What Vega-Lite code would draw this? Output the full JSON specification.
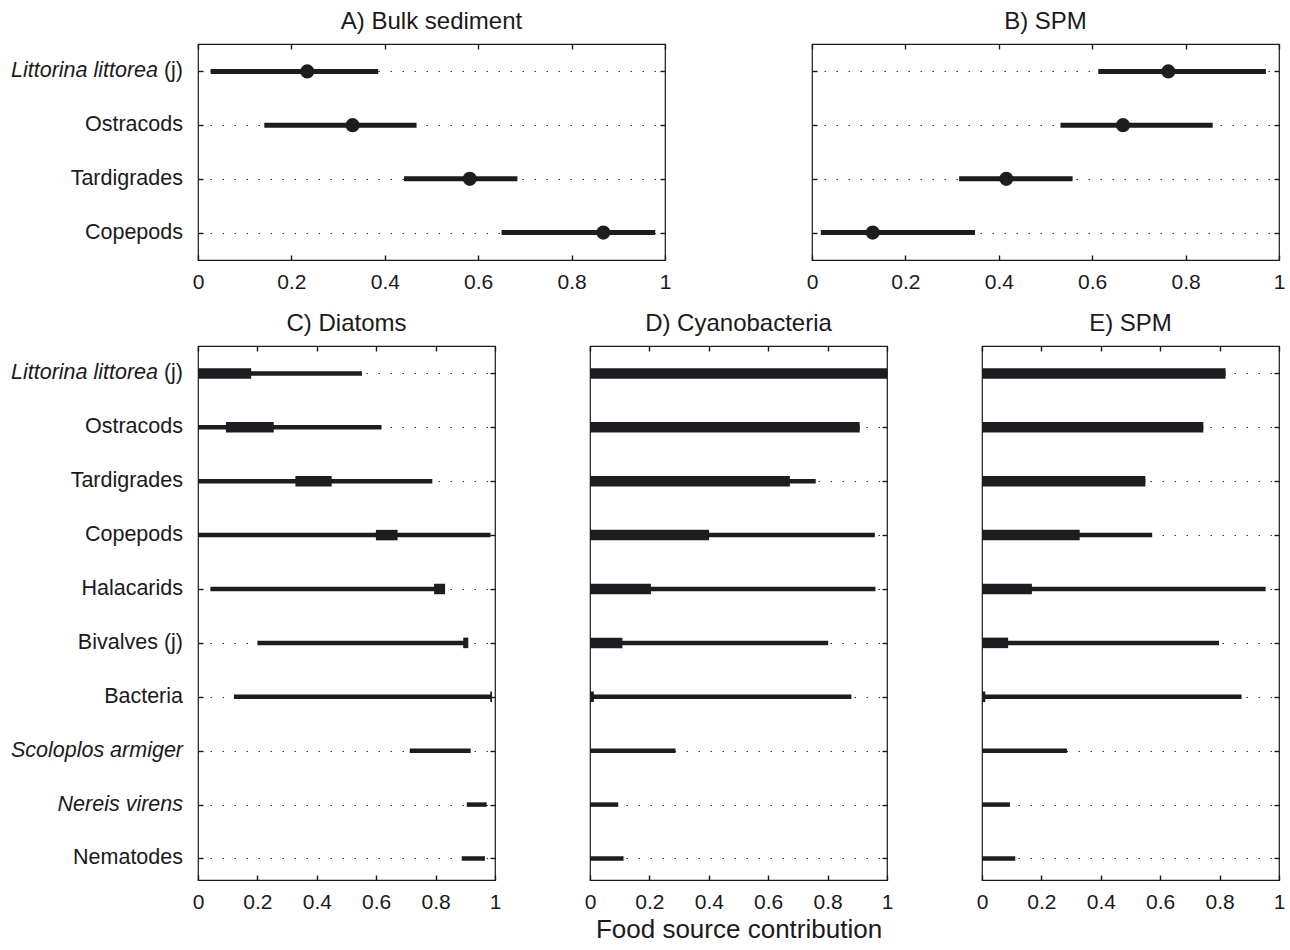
{
  "$schema": "https://vega.github.io/schema/vega-lite/v6.json",
  "padding": {"left": 10, "top": 9, "right": 0, "bottom": 0},
  "background": "white",
  "config": {
    "font": "Liberation Sans",
    "view": {"stroke": "#1a1a1a", "strokeWidth": 1.2},
    "axis": {"domain": false, "ticks": true, "tickSize": -5, "tickColor": "#1a1a1a", "tickWidth": 1.4, "labelFont": "Liberation Sans", "labelColor": "#1a1a1a", "labelFontSize": 21, "labelPadding": 16, "title": null, "zindex": 1},
    "title": {"font": "Liberation Sans", "fontSize": 24, "fontWeight": "normal", "color": "#1a1a1a", "offset": 9},
    "rule": {"strokeCap": "butt", "color": "#1d1d1f"},
    "text": {"font": "Liberation Sans", "fontSize": 21.5, "color": "#1a1a1a", "align": "right", "baseline": "middle"}
  },
  "datasets": {
    "top": [
      {"panel": "A", "taxon": "Littorina littorea (j)", "lo": 0.027, "hi": 0.386, "mid": 0.234},
      {"panel": "A", "taxon": "Ostracods", "lo": 0.142, "hi": 0.468, "mid": 0.331},
      {"panel": "A", "taxon": "Tardigrades", "lo": 0.441, "hi": 0.684, "mid": 0.582},
      {"panel": "A", "taxon": "Copepods", "lo": 0.650, "hi": 0.979, "mid": 0.868},
      {"panel": "B", "taxon": "Littorina littorea (j)", "lo": 0.613, "hi": 0.972, "mid": 0.763},
      {"panel": "B", "taxon": "Ostracods", "lo": 0.532, "hi": 0.858, "mid": 0.666},
      {"panel": "B", "taxon": "Tardigrades", "lo": 0.315, "hi": 0.558, "mid": 0.416},
      {"panel": "B", "taxon": "Copepods", "lo": 0.019, "hi": 0.349, "mid": 0.130}
    ],
    "bottom": [
      {"panel": "C", "taxon": "Littorina littorea (j)", "lo95": 0, "hi95": 0.552, "lo50": 0, "hi50": 0.179},
      {"panel": "C", "taxon": "Ostracods", "lo95": 0, "hi95": 0.618, "lo50": 0.094, "hi50": 0.255},
      {"panel": "C", "taxon": "Tardigrades", "lo95": 0, "hi95": 0.789, "lo50": 0.328, "hi50": 0.450},
      {"panel": "C", "taxon": "Copepods", "lo95": 0, "hi95": 0.985, "lo50": 0.599, "hi50": 0.672},
      {"panel": "C", "taxon": "Halacarids", "lo95": 0.042, "hi95": 0.801, "lo50": 0.795, "hi50": 0.832},
      {"panel": "C", "taxon": "Bivalves (j)", "lo95": 0.200, "hi95": 0.901, "lo50": 0.893, "hi50": 0.910},
      {"panel": "C", "taxon": "Bacteria", "lo95": 0.121, "hi95": 0.989, "lo50": 0.984, "hi50": 0.990},
      {"panel": "C", "taxon": "Scoloplos armiger", "lo95": 0.713, "hi95": 0.918, "lo50": null, "hi50": null},
      {"panel": "C", "taxon": "Nereis virens", "lo95": 0.905, "hi95": 0.972, "lo50": null, "hi50": null},
      {"panel": "C", "taxon": "Nematodes", "lo95": 0.888, "hi95": 0.966, "lo50": null, "hi50": null},
      {"panel": "D", "taxon": "Littorina littorea (j)", "lo95": 0, "hi95": 1.0, "lo50": 0, "hi50": 1.0},
      {"panel": "D", "taxon": "Ostracods", "lo95": 0, "hi95": 0.908, "lo50": 0, "hi50": 0.908},
      {"panel": "D", "taxon": "Tardigrades", "lo95": 0, "hi95": 0.760, "lo50": 0, "hi50": 0.673},
      {"panel": "D", "taxon": "Copepods", "lo95": 0, "hi95": 0.959, "lo50": 0, "hi50": 0.401},
      {"panel": "D", "taxon": "Halacarids", "lo95": 0, "hi95": 0.961, "lo50": 0, "hi50": 0.205},
      {"panel": "D", "taxon": "Bivalves (j)", "lo95": 0, "hi95": 0.802, "lo50": 0, "hi50": 0.109},
      {"panel": "D", "taxon": "Bacteria", "lo95": 0, "hi95": 0.880, "lo50": 0, "hi50": 0.013},
      {"panel": "D", "taxon": "Scoloplos armiger", "lo95": 0, "hi95": 0.288, "lo50": null, "hi50": null},
      {"panel": "D", "taxon": "Nereis virens", "lo95": 0, "hi95": 0.095, "lo50": null, "hi50": null},
      {"panel": "D", "taxon": "Nematodes", "lo95": 0, "hi95": 0.113, "lo50": null, "hi50": null},
      {"panel": "E", "taxon": "Littorina littorea (j)", "lo95": 0, "hi95": 0.820, "lo50": 0, "hi50": 0.820},
      {"panel": "E", "taxon": "Ostracods", "lo95": 0, "hi95": 0.745, "lo50": 0, "hi50": 0.745},
      {"panel": "E", "taxon": "Tardigrades", "lo95": 0, "hi95": 0.550, "lo50": 0, "hi50": 0.550},
      {"panel": "E", "taxon": "Copepods", "lo95": 0, "hi95": 0.573, "lo50": 0, "hi50": 0.329},
      {"panel": "E", "taxon": "Halacarids", "lo95": 0, "hi95": 0.955, "lo50": 0, "hi50": 0.168},
      {"panel": "E", "taxon": "Bivalves (j)", "lo95": 0, "hi95": 0.798, "lo50": 0, "hi50": 0.088},
      {"panel": "E", "taxon": "Bacteria", "lo95": 0, "hi95": 0.874, "lo50": 0, "hi50": 0.011},
      {"panel": "E", "taxon": "Scoloplos armiger", "lo95": 0, "hi95": 0.286, "lo50": null, "hi50": null},
      {"panel": "E", "taxon": "Nereis virens", "lo95": 0, "hi95": 0.094, "lo50": null, "hi50": null},
      {"panel": "E", "taxon": "Nematodes", "lo95": 0, "hi95": 0.112, "lo50": null, "hi50": null}
    ]
  },
  "spacing": 18,
  "vconcat": [
    {
      "spacing": 133,
      "hconcat": [
        {
          "width": 467, "height": 216,
          "title": "A) Bulk sediment",
          "data": {"name": "top"},
          "transform": [{"filter": "datum.panel == 'A'"}],
          "layer": [
            {
              "mark": {"type": "rule", "strokeWidth": 5},
              "encoding": {
                "y": {"field": "taxon", "type": "nominal", "scale": {"type": "point", "padding": 0.51, "domain": ["Littorina littorea (j)", "Ostracods", "Tardigrades", "Copepods"]},
                      "axis": {"orient": "left", "labels": false, "grid": true, "gridDash": [1.5, 10.5], "gridColor": "#333", "gridWidth": 1}},
                "x": {"field": "lo", "type": "quantitative", "scale": {"domain": [0, 1], "nice": false},
                      "axis": {"orient": "bottom", "values": [0, 0.2, 0.4, 0.6, 0.8, 1], "format": "~g", "labelFlush": false, "grid": false}},
                "x2": {"field": "hi"}
              }
            },
            {
              "mark": {"type": "point", "filled": true, "opacity": 1, "size": 200, "color": "#1d1d1f", "shape": "circle"},
              "encoding": {
                "y": {"field": "taxon", "type": "nominal", "axis": {"orient": "right", "labels": false, "grid": false}},
                "x": {"field": "mid", "type": "quantitative", "axis": {"orient": "top", "labels": false, "values": [0, 0.2, 0.4, 0.6, 0.8, 1], "grid": false}}
              }
            },
            {
              "transform": [{"filter": "datum.taxon != 'Littorina littorea (j)'"}],
              "mark": {"type": "text", "dx": -15},
              "encoding": {
                "y": {"field": "taxon", "type": "nominal", "axis": null},
                "x": {"datum": 0, "type": "quantitative", "axis": null},
                "text": {"field": "taxon"}
              }
            },
            {
              "transform": [{"filter": "datum.taxon == 'Littorina littorea (j)'"}],
              "mark": {"type": "text", "dx": -15},
              "encoding": {
                "y": {"field": "taxon", "type": "nominal", "axis": null},
                "x": {"datum": 0, "type": "quantitative", "axis": null},
                "text": {"value": "(j)"}
              }
            },
            {
              "transform": [{"filter": "datum.taxon == 'Littorina littorea (j)'"}],
              "mark": {"type": "text", "dx": -40, "fontStyle": "italic"},
              "encoding": {
                "y": {"field": "taxon", "type": "nominal", "axis": null},
                "x": {"datum": 0, "type": "quantitative", "axis": null},
                "text": {"value": "Littorina littorea"}
              }
            }
          ],
          "resolve": {"axis": {"x": "independent", "y": "independent"}}
        },
        {
          "width": 467, "height": 216,
          "title": "B) SPM",
          "data": {"name": "top"},
          "transform": [{"filter": "datum.panel == 'B'"}],
          "layer": [
            {
              "mark": {"type": "rule", "strokeWidth": 5},
              "encoding": {
                "y": {"field": "taxon", "type": "nominal", "scale": {"type": "point", "padding": 0.51, "domain": ["Littorina littorea (j)", "Ostracods", "Tardigrades", "Copepods"]},
                      "axis": {"orient": "left", "labels": false, "grid": true, "gridDash": [1.5, 10.5], "gridColor": "#333", "gridWidth": 1}},
                "x": {"field": "lo", "type": "quantitative", "scale": {"domain": [0, 1], "nice": false},
                      "axis": {"orient": "bottom", "values": [0, 0.2, 0.4, 0.6, 0.8, 1], "format": "~g", "labelFlush": false, "grid": false}},
                "x2": {"field": "hi"}
              }
            },
            {
              "mark": {"type": "point", "filled": true, "opacity": 1, "size": 200, "color": "#1d1d1f", "shape": "circle"},
              "encoding": {
                "y": {"field": "taxon", "type": "nominal", "axis": {"orient": "right", "labels": false, "grid": false}},
                "x": {"field": "mid", "type": "quantitative", "axis": {"orient": "top", "labels": false, "values": [0, 0.2, 0.4, 0.6, 0.8, 1], "grid": false}}
              }
            }
          ],
          "resolve": {"axis": {"x": "independent", "y": "independent"}}
        }
      ]
    },
    {
      "spacing": 81,
      "hconcat": [
        {
          "width": 297, "height": 534,
          "title": "C) Diatoms",
          "data": {"name": "bottom"},
          "transform": [{"filter": "datum.panel == 'C'"}],
          "layer": [
            {
              "mark": {"type": "rule", "strokeWidth": 4.5},
              "encoding": {
                "y": {"field": "taxon", "type": "nominal", "scale": {"type": "point", "padding": 0.4536, "align": 0.56, "domain": ["Littorina littorea (j)", "Ostracods", "Tardigrades", "Copepods", "Halacarids", "Bivalves (j)", "Bacteria", "Scoloplos armiger", "Nereis virens", "Nematodes"]},
                      "axis": {"orient": "left", "labels": false, "grid": true, "gridDash": [1.5, 10.5], "gridColor": "#333", "gridWidth": 1}},
                "x": {"field": "lo95", "type": "quantitative", "scale": {"domain": [0, 1], "nice": false},
                      "axis": {"orient": "bottom", "values": [0, 0.2, 0.4, 0.6, 0.8, 1], "format": "~g", "labelFlush": false, "grid": false}},
                "x2": {"field": "hi95"}
              }
            },
            {
              "mark": {"type": "rule", "strokeWidth": 10.5},
              "encoding": {
                "y": {"field": "taxon", "type": "nominal", "axis": {"orient": "right", "labels": false, "grid": false}},
                "x": {"field": "lo50", "type": "quantitative", "axis": {"orient": "top", "labels": false, "values": [0, 0.2, 0.4, 0.6, 0.8, 1], "grid": false}},
                "x2": {"field": "hi50"}
              }
            },
            {
              "transform": [{"filter": "datum.taxon != 'Littorina littorea (j)' && datum.taxon != 'Scoloplos armiger' && datum.taxon != 'Nereis virens'"}],
              "mark": {"type": "text", "dx": -15},
              "encoding": {
                "y": {"field": "taxon", "type": "nominal", "axis": null},
                "x": {"datum": 0, "type": "quantitative", "axis": null},
                "text": {"field": "taxon"}
              }
            },
            {
              "transform": [{"filter": "datum.taxon == 'Scoloplos armiger' || datum.taxon == 'Nereis virens'"}],
              "mark": {"type": "text", "dx": -15, "fontStyle": "italic"},
              "encoding": {
                "y": {"field": "taxon", "type": "nominal", "axis": null},
                "x": {"datum": 0, "type": "quantitative", "axis": null},
                "text": {"field": "taxon"}
              }
            },
            {
              "transform": [{"filter": "datum.taxon == 'Littorina littorea (j)'"}],
              "mark": {"type": "text", "dx": -15},
              "encoding": {
                "y": {"field": "taxon", "type": "nominal", "axis": null},
                "x": {"datum": 0, "type": "quantitative", "axis": null},
                "text": {"value": "(j)"}
              }
            },
            {
              "transform": [{"filter": "datum.taxon == 'Littorina littorea (j)'"}],
              "mark": {"type": "text", "dx": -40, "fontStyle": "italic"},
              "encoding": {
                "y": {"field": "taxon", "type": "nominal", "axis": null},
                "x": {"datum": 0, "type": "quantitative", "axis": null},
                "text": {"value": "Littorina littorea"}
              }
            }
          ],
          "resolve": {"axis": {"x": "independent", "y": "independent"}}
        },
        {
          "width": 297, "height": 534,
          "title": "D) Cyanobacteria",
          "data": {"name": "bottom"},
          "transform": [{"filter": "datum.panel == 'D'"}],
          "layer": [
            {
              "mark": {"type": "rule", "strokeWidth": 4.5},
              "encoding": {
                "y": {"field": "taxon", "type": "nominal", "scale": {"type": "point", "padding": 0.4536, "align": 0.56, "domain": ["Littorina littorea (j)", "Ostracods", "Tardigrades", "Copepods", "Halacarids", "Bivalves (j)", "Bacteria", "Scoloplos armiger", "Nereis virens", "Nematodes"]},
                      "axis": {"orient": "left", "labels": false, "grid": true, "gridDash": [1.5, 10.5], "gridColor": "#333", "gridWidth": 1}},
                "x": {"field": "lo95", "type": "quantitative", "scale": {"domain": [0, 1], "nice": false},
                      "axis": {"orient": "bottom", "values": [0, 0.2, 0.4, 0.6, 0.8, 1], "format": "~g", "labelFlush": false, "grid": false,
                               "title": "Food source contribution", "titleFontSize": 26, "titleFontWeight": "normal", "titleFont": "Liberation Sans", "titleColor": "#1a1a1a", "titlePadding": 4}},
                "x2": {"field": "hi95"}
              }
            },
            {
              "mark": {"type": "rule", "strokeWidth": 10.5},
              "encoding": {
                "y": {"field": "taxon", "type": "nominal", "axis": {"orient": "right", "labels": false, "grid": false}},
                "x": {"field": "lo50", "type": "quantitative", "axis": {"orient": "top", "labels": false, "values": [0, 0.2, 0.4, 0.6, 0.8, 1], "grid": false}},
                "x2": {"field": "hi50"}
              }
            }
          ],
          "resolve": {"axis": {"x": "independent", "y": "independent"}}
        },
        {
          "width": 297, "height": 534,
          "title": "E) SPM",
          "data": {"name": "bottom"},
          "transform": [{"filter": "datum.panel == 'E'"}],
          "layer": [
            {
              "mark": {"type": "rule", "strokeWidth": 4.5},
              "encoding": {
                "y": {"field": "taxon", "type": "nominal", "scale": {"type": "point", "padding": 0.4536, "align": 0.56, "domain": ["Littorina littorea (j)", "Ostracods", "Tardigrades", "Copepods", "Halacarids", "Bivalves (j)", "Bacteria", "Scoloplos armiger", "Nereis virens", "Nematodes"]},
                      "axis": {"orient": "left", "labels": false, "grid": true, "gridDash": [1.5, 10.5], "gridColor": "#333", "gridWidth": 1}},
                "x": {"field": "lo95", "type": "quantitative", "scale": {"domain": [0, 1], "nice": false},
                      "axis": {"orient": "bottom", "values": [0, 0.2, 0.4, 0.6, 0.8, 1], "format": "~g", "labelFlush": false, "grid": false}},
                "x2": {"field": "hi95"}
              }
            },
            {
              "mark": {"type": "rule", "strokeWidth": 10.5},
              "encoding": {
                "y": {"field": "taxon", "type": "nominal", "axis": {"orient": "right", "labels": false, "grid": false}},
                "x": {"field": "lo50", "type": "quantitative", "axis": {"orient": "top", "labels": false, "values": [0, 0.2, 0.4, 0.6, 0.8, 1], "grid": false}},
                "x2": {"field": "hi50"}
              }
            }
          ],
          "resolve": {"axis": {"x": "independent", "y": "independent"}}
        }
      ]
    }
  ]
}
